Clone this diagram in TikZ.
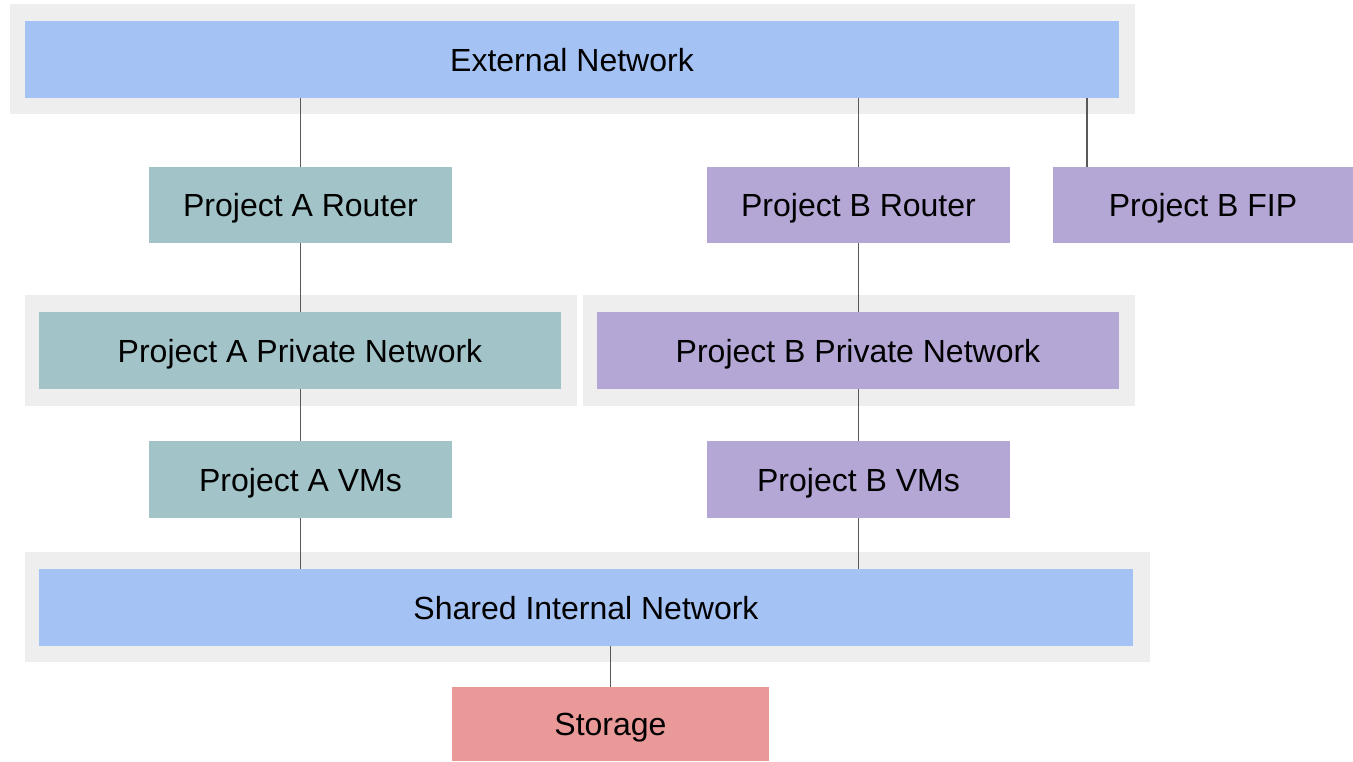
\documentclass[tikz,border=0pt]{standalone}
\usepackage{fontspec}
\setmainfont{Liberation Sans}
\definecolor{netblue}{HTML}{A4C2F4}
\definecolor{projteal}{HTML}{A2C4C9}
\definecolor{projpurple}{HTML}{B4A7D6}
\definecolor{storered}{HTML}{EA9999}
\definecolor{groupgray}{HTML}{EEEEEE}
\definecolor{linkgray}{HTML}{595959}
\tikzset{
  box/.style={rectangle, inner sep=0pt, outer sep=0pt, draw=none,
    font=\fontsize{32}{38}\selectfont, text=black,
    text height=23pt, text depth=0pt},
  groupbox/.style={rectangle, inner sep=0pt, outer sep=0pt, fill=groupgray, draw=none},
  link/.style={draw=linkgray, line width=1.5pt},
}
\newcommand{\boxat}[6]{% name, x0, y0, x1, y1, style
  \node[#6, minimum width={#4-#2}, minimum height={#5-#3}] (#1) at ({(#2+#4)/2},{(#3+#5)/2})}
\begin{document}
\begin{tikzpicture}[x=1pt,y=-1pt]
  \useasboundingbox (0,0) rectangle (1353,761);
  \fill[white] (0,0) rectangle (1353,761);

  % grey group panels
  \boxat{gext}{10}{4}{1135}{114}{groupbox} {};
  \boxat{gpa}{25}{295}{577}{406}{groupbox} {};
  \boxat{gpb}{583}{295}{1135}{406}{groupbox} {};
  \boxat{gsh}{25}{552}{1150}{662}{groupbox} {};

  % networks and components
  \boxat{ext}{25}{21}{1119}{98}{box, fill=netblue} {External Network};
  \boxat{rtra}{149}{167}{452}{243}{box, fill=projteal} {Project A Router};
  \boxat{rtrb}{707}{167}{1010}{243}{box, fill=projpurple} {Project B Router};
  \boxat{fip}{1053}{167}{1353}{243}{box, fill=projpurple} {Project B FIP};
  \boxat{neta}{39}{312}{561}{389}{box, fill=projteal} {Project A Private Network};
  \boxat{netb}{597}{312}{1119}{389}{box, fill=projpurple} {Project B Private Network};
  \boxat{vma}{149}{441}{452}{518}{box, fill=projteal} {Project A VMs};
  \boxat{vmb}{707}{441}{1010}{518}{box, fill=projpurple} {Project B VMs};
  \boxat{shared}{39}{569}{1133}{646}{box, fill=netblue} {Shared Internal Network};
  \boxat{store}{452}{687}{769}{761}{box, fill=storered} {Storage};

  \coordinate (fipx) at (1087,0);

  % links
  \draw[link] (ext.south -| rtra.north) -- (rtra.north);
  \draw[link] (ext.south -| rtrb.north) -- (rtrb.north);
  \draw[link] (ext.south -| fipx) -- (fip.north -| fipx);
  \draw[link] (rtra.south) -- (neta.north -| rtra.south);
  \draw[link] (rtrb.south) -- (netb.north -| rtrb.south);
  \draw[link] (neta.south -| vma.north) -- (vma.north);
  \draw[link] (netb.south -| vmb.north) -- (vmb.north);
  \draw[link] (vma.south) -- (shared.north -| vma.south);
  \draw[link] (vmb.south) -- (shared.north -| vmb.south);
  \draw[link] (shared.south -| store.north) -- (store.north);
\end{tikzpicture}
\end{document}
